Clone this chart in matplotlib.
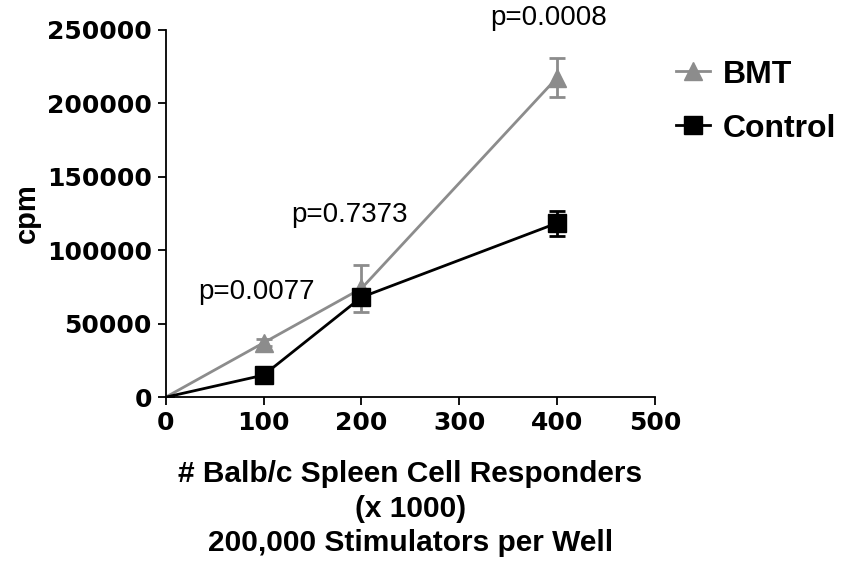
import numpy as np
import matplotlib.pyplot as plt
from matplotlib.lines import Line2D

# responders (x 1000) and cpm readings
x_vals = [0, 100, 200, 400]
bmt_mean = [0, 37000, 74000, 217500]
bmt_err = [0, 2500, 16000, 13500]
ctrl_mean = [0, 15000, 68000, 118500]
ctrl_err = [0, 2500, 5000, 8500]

p_labels = ['p=0.0077', 'p=0.7373', 'p=0.0008']
p_pos = [(93, 71500), (188, 124000), (391, 258000)]

grey = '#8c8c8c'

fig = plt.figure(figsize=(8.41, 5.61), dpi=100)
ax = fig.add_axes([0.197, 0.292, 0.582, 0.655])

ax.errorbar(x_vals, bmt_mean, yerr=bmt_err, color=grey, lw=2, marker='^',
            ms=13, markevery=[1, 2, 3], capsize=6, capthick=2, elinewidth=2,
            zorder=2)
ax.errorbar(x_vals, ctrl_mean, yerr=ctrl_err, color='black', lw=2, marker='s',
            ms=13, markevery=[1, 2, 3], capsize=6, capthick=2, elinewidth=2,
            zorder=3)

for lab, (px, py) in zip(p_labels, p_pos):
    ax.text(px, py, lab, ha='center', va='center', fontsize=20,
            family='Liberation Sans', clip_on=False)

ax.set_xlim(0, 500)
ax.set_ylim(0, 250000)
ax.set_xticks([0, 100, 200, 300, 400, 500])
ax.set_yticks([0, 50000, 100000, 150000, 200000, 250000])
for s in ['top', 'right']:
    ax.spines[s].set_visible(False)
for s in ['left', 'bottom']:
    ax.spines[s].set_linewidth(1.3)
ax.tick_params(direction='out', length=6, width=1.3, pad=4)
for lbl in ax.get_xticklabels() + ax.get_yticklabels():
    lbl.set_fontsize(18)
    lbl.set_fontweight('bold')
    lbl.set_family('DejaVu Sans')

ax.set_ylabel('cpm', fontsize=21, fontweight='bold', family='Liberation Sans', labelpad=4)
ax.set_xlabel('# Balb/c Spleen Cell Responders\n(x 1000)\n200,000 Stimulators per Well',
              fontsize=21.5, fontweight='bold', family='Liberation Sans',
              linespacing=1.3, labelpad=18)

handles = [Line2D([], [], color=grey, lw=2, marker='^', ms=13),
           Line2D([], [], color='black', lw=2, marker='s', ms=13)]
fig.legend(handles, ['BMT', 'Control'], loc='upper left', bbox_to_anchor=(0.77, 0.945),
           frameon=False, handlelength=1.05, handletextpad=0.4, labelspacing=0.75,
           prop={'family': 'Liberation Sans', 'weight': 'bold', 'size': 23})

fig.savefig('out.png', dpi=100)
